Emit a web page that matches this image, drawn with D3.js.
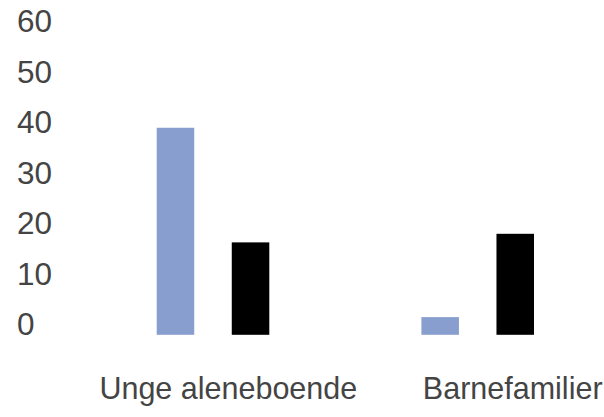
<!DOCTYPE html>
<html>
<head>
<meta charset="utf-8">
<script src="https://cdn.jsdelivr.net/npm/d3@7"></script>
<style>
  html, body { margin: 0; padding: 0; background: #fff; }
  svg { display: block; }
  text { font-family: "Liberation Sans", Arial, Helvetica, sans-serif; fill: #444; }
</style>
</head>
<body>
<svg id="chart" width="604" height="417"></svg>
<script>
const categories = ["Unge aleneboende", "Barnefamilier"];
const seriesNames = ["Serie 1", "Serie 2"];
const series1 = [41, 3.5];
const series2 = [18.3, 20];
const yTicks = [0, 10, 20, 30, 40, 50, 60];
const colors = ["#889ecf", "#000000"];

const svg = d3.select("#chart");

const y = d3.scaleLinear().domain([0, 60]).range([334.8, 31.8]);
const x0 = d3.scaleBand().domain(categories).range([80.65, 610.05]).paddingInner(0).paddingOuter(0);
const x1 = d3.scaleBand().domain(seriesNames).range([0, 112.6]).paddingInner(0.5).paddingOuter(0);
const groupOffset = (x0.bandwidth() - 112.6) / 2;

// y axis labels (no line, no ticks), left aligned
const yAxis = d3.axisLeft(y).tickValues(yTicks).tickSize(0).tickPadding(0);
const gy = svg.append("g").attr("transform", "translate(17,0)").call(yAxis);
gy.select(".domain").remove();
gy.selectAll("text")
  .attr("text-anchor", "start")
  .attr("x", 0)
  .attr("dy", 0)
  .style("font-size", "31.5px")
  .style("font-family", "'Liberation Sans', Arial, sans-serif")
  .attr("fill", "#444");

// bars
const data = categories.map((c, i) => ({ cat: c, vals: [series1[i], series2[i]] }));
const groups = svg.append("g").selectAll("g").data(data).join("g")
  .attr("transform", d => `translate(${x0(d.cat) + groupOffset},0)`);
groups.selectAll("rect")
  .data(d => d.vals.map((v, j) => ({ name: seriesNames[j], v, j })))
  .join("rect")
  .attr("x", d => x1(d.name))
  .attr("width", x1.bandwidth())
  .attr("y", d => y(d.v))
  .attr("height", d => y(0) - y(d.v))
  .attr("fill", d => colors[d.j]);

// category labels
const labelShift = [15.3, 35];
const xAxis = d3.axisBottom(x0).tickSize(0).tickPadding(0);
const gx = svg.append("g").attr("transform", "translate(0,398.5)").call(xAxis);
gx.select(".domain").remove();
gx.selectAll(".tick").each(function(d, i) {
  d3.select(this).select("text")
    .attr("x", labelShift[i])
    .attr("y", 0)
    .attr("dy", 0)
    .attr("text-anchor", "middle")
    .style("font-size", "30.5px")
    .style("font-family", "'Liberation Sans', Arial, sans-serif")
    .attr("fill", "#444");
});
</script>
</body>
</html>
